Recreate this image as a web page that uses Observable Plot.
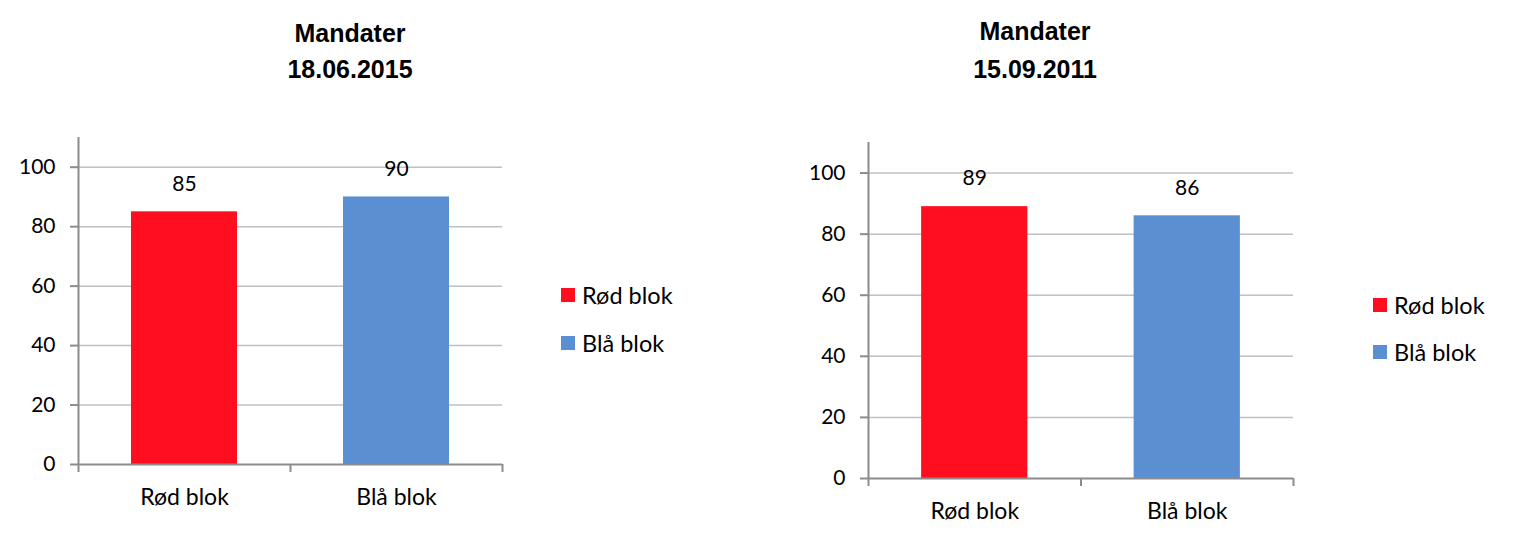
<!DOCTYPE html>
<html><head><meta charset="utf-8">
<script src="https://cdn.jsdelivr.net/npm/d3@7"></script>
<script src="https://cdn.jsdelivr.net/npm/@observablehq/plot@0.6"></script>
<style>
body{margin:0;background:#fff;}
#root{position:relative;width:1518px;height:544px;overflow:hidden;font-family:Lato,sans-serif;color:#000;}
.chart{position:absolute;top:0;}
.title{position:absolute;font-family:"Liberation Sans",Arial,sans-serif;font-weight:bold;font-size:25px;transform:translate(-50%,-50%);white-space:nowrap;color:#000;}
.item{position:absolute;display:flex;align-items:center;white-space:nowrap;transform:translateY(-50%);font-size:23.5px;font-family:Lato,sans-serif;}
.sw{width:14px;height:14px;margin-right:7px;}
</style></head>
<body><div id="root"></div>
<script>
const categories = ["Rød blok", "Blå blok"];
const colors = ["#fe0e1f", "#5a8fd2"];
const chartTitle = "Mandater";
const dates = ["18.06.2015", "15.09.2011"];
const values2015 = [85, 90];
const values2011 = [89, 86];
const yTicks = [0, 20, 40, 60, 80, 100];
const yMax = 110;

const root = document.getElementById("root");
const axisColor = "#8c8c8c";
const gridColor = "#c0c0c0";

function makeChart(values, date, cfg) {
  const data = categories.map((c, i) => ({cat: c, i, v: values[i]}));
  const plot = Plot.plot({
    width: cfg.width,
    height: 544,
    marginLeft: 78,
    marginRight: cfg.marginRight,
    marginTop: cfg.marginTop,
    marginBottom: cfg.marginBottom,
    style: {fontFamily: "Lato, sans-serif", fontSize: "21px", color: "#000", background: "transparent", overflow: "visible"},
    x: {domain: [0, categories.length]},
    y: {domain: [0, yMax]},
    color: {domain: categories, range: colors},
    marks: [
      Plot.ruleY(yTicks.filter(t => t > 0), {stroke: gridColor, strokeWidth: 1.5}),
      Plot.rectY(data, {x1: d => d.i + 0.25, x2: d => d.i + 0.75, y1: 0, y2: "v", fill: "cat"}),
      Plot.text(data, {x: d => d.i + 0.5, y: "v", text: d => String(d.v), dy: -28, fontSize: 21, fill: "#000"}),
      Plot.ruleX([0], {y1: 0, y2: yMax, stroke: axisColor, strokeWidth: 2}),
      Plot.ruleY([0], {stroke: axisColor, strokeWidth: 2}),
      Plot.axisY({ticks: yTicks, tickSize: 8, tickPadding: 15, fontSize: 21, stroke: axisColor, strokeWidth: 2, strokeOpacity: 1, fill: "#000", label: null}),
      Plot.axisX({ticks: d3.range(categories.length + 1), tickFormat: () => "", tickSize: 8, stroke: axisColor, strokeWidth: 2, strokeOpacity: 1, label: null}),
      Plot.axisX({ticks: categories.map((c, i) => i + 0.5), tickFormat: d => categories[Math.floor(d)], tickSize: 0, tickPadding: cfg.labelPad, fontSize: 23, fill: "#000", label: null})
    ]
  });
  plot.classList.add("chart");
  plot.style.left = cfg.left + "px";
  root.appendChild(plot);

  const t1 = document.createElement("div");
  t1.className = "title"; t1.textContent = chartTitle;
  t1.style.left = cfg.titleX + "px"; t1.style.top = cfg.titleY1 + "px";
  root.appendChild(t1);
  const t2 = document.createElement("div");
  t2.className = "title"; t2.textContent = date;
  t2.style.left = cfg.titleX + "px"; t2.style.top = cfg.titleY2 + "px";
  root.appendChild(t2);

  categories.forEach((c, i) => {
    const it = document.createElement("div");
    it.className = "item";
    it.style.left = cfg.legendX + "px";
    it.style.top = (cfg.legendY + i * cfg.legendGap) + "px";
    const sw = document.createElement("span");
    sw.className = "sw"; sw.style.background = colors[i];
    const tx = document.createElement("span");
    tx.textContent = c;
    it.appendChild(sw); it.appendChild(tx);
    root.appendChild(it);
  });
}

makeChart(values2015, dates[0], {left: 0, width: 520, marginRight: 18, marginTop: 137, marginBottom: 80, labelPad: 24,
  titleX: 350, titleY1: 33, titleY2: 69, legendX: 561, legendY: 295, legendGap: 48});
makeChart(values2011, dates[1], {left: 790, width: 520, marginRight: 17, marginTop: 142, marginBottom: 66, labelPad: 24,
  titleX: 1035, titleY1: 31, titleY2: 69, legendX: 1373, legendY: 305, legendGap: 47});
</script>
</body></html>
